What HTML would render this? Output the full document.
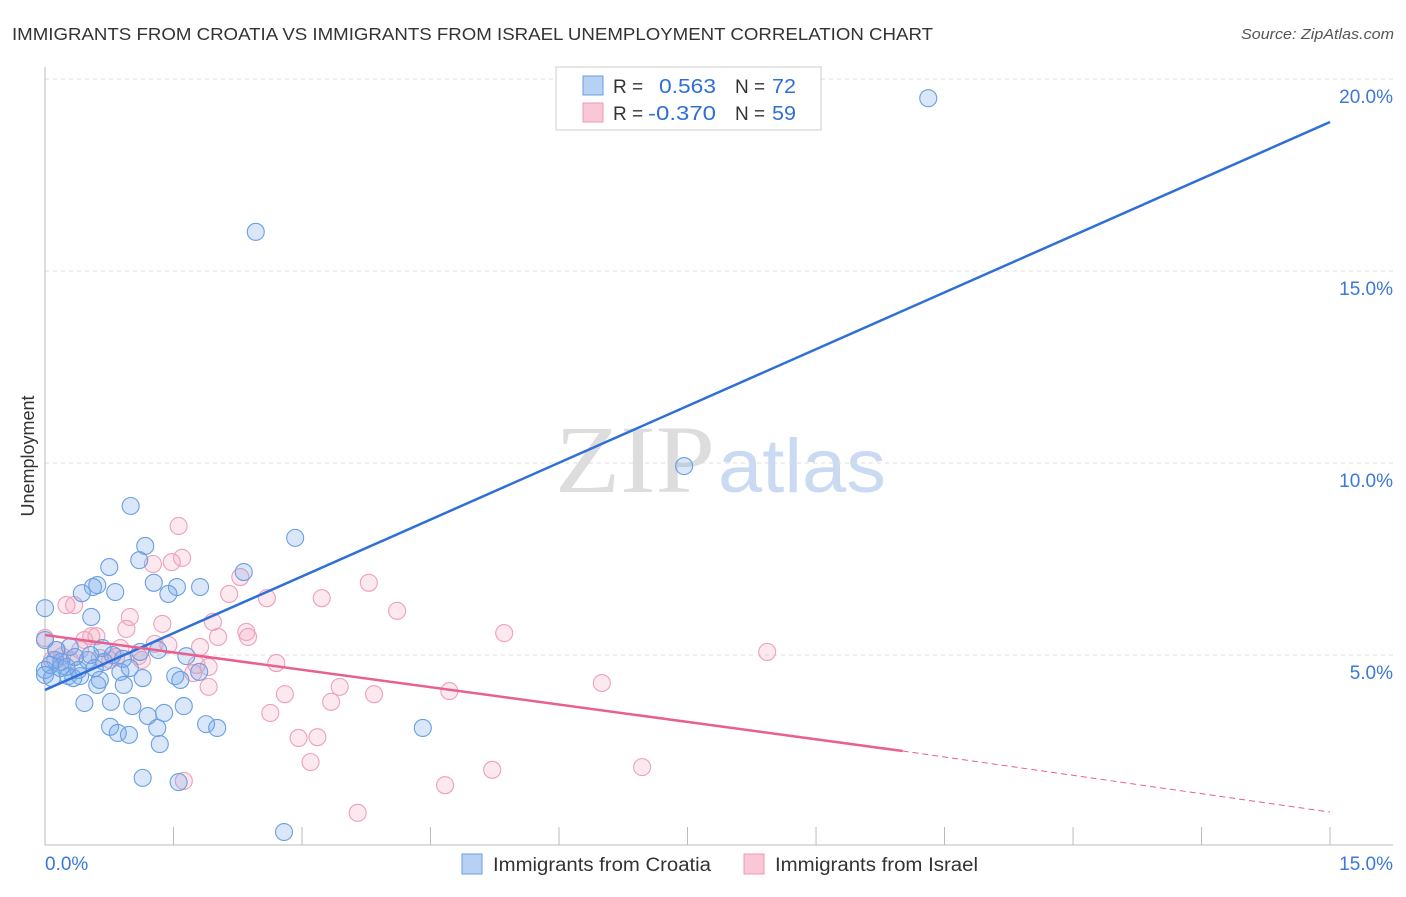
<!DOCTYPE html>
<html><head><meta charset="utf-8"><style>
body{margin:0;background:#fff;font-family:"Liberation Sans",sans-serif}
svg text{font-family:"Liberation Sans",sans-serif}
</style></head><body>
<svg id="chart" width="1406" height="892" viewBox="0 0 1406 892" xmlns="http://www.w3.org/2000/svg">
<text x="12" y="40" font-size="17.5" fill="#333" textLength="921" lengthAdjust="spacingAndGlyphs">IMMIGRANTS FROM CROATIA VS IMMIGRANTS FROM ISRAEL UNEMPLOYMENT CORRELATION CHART</text>
<text x="1394" y="39" font-size="15" fill="#555" font-style="italic" text-anchor="end" textLength="153" lengthAdjust="spacingAndGlyphs">Source: ZipAtlas.com</text>
<g>
<text x="555" y="492" font-size="96" fill="#ddd" font-family="Liberation Serif" style="font-family:'Liberation Serif',serif" textLength="160" lengthAdjust="spacingAndGlyphs">ZIP</text>
<text x="718" y="492" font-size="76" fill="#c9daf2" textLength="168" lengthAdjust="spacingAndGlyphs">atlas</text>
</g>
<g id="grid"></g>
<g id="axes"></g>
<g id="marks"></g>
<g>
<rect x="556" y="67" width="265" height="63" fill="#fff" stroke="#ccc"/>
<rect x="583" y="76" width="20" height="19" fill="#b7d1f5" stroke="#6a9de0"/>
<rect x="583" y="103" width="20" height="19" fill="#f9c7d6" stroke="#eb98b2"/>
<text x="613" y="93" font-size="19" fill="#333">R =</text>
<text x="659" y="93" font-size="20" fill="#2f6fd6" textLength="57" lengthAdjust="spacingAndGlyphs">0.563</text>
<text x="735" y="93" font-size="19" fill="#333">N =</text>
<text x="772" y="93" font-size="20" fill="#2f6fd6" textLength="24" lengthAdjust="spacingAndGlyphs">72</text>
<text x="613" y="120" font-size="19" fill="#333">R =</text>
<text x="648" y="120" font-size="20" fill="#2f6fd6" textLength="68" lengthAdjust="spacingAndGlyphs">-0.370</text>
<text x="735" y="120" font-size="19" fill="#333">N =</text>
<text x="772" y="120" font-size="20" fill="#2f6fd6" textLength="24" lengthAdjust="spacingAndGlyphs">59</text>
</g>
<g>
<rect x="462" y="854" width="20" height="20" fill="#b7d1f5" stroke="#6a9de0"/>
<text x="493" y="871" font-size="19" fill="#333" textLength="218" lengthAdjust="spacingAndGlyphs">Immigrants from Croatia</text>
<rect x="744" y="854" width="20" height="20" fill="#f9c7d6" stroke="#eb98b2"/>
<text x="775" y="871" font-size="19" fill="#333" textLength="203" lengthAdjust="spacingAndGlyphs">Immigrants from Israel</text>
</g>
<text transform="translate(34,456) rotate(-90)" font-size="18" fill="#333" text-anchor="middle">Unemployment</text>
</svg>
<script>
const blueX=[10.31,2.46,7.46,1.00,2.92,1.17,2.32,1.10,0.75,0.61,0.56,1.27,1.54,1.81,1.44,0.82,0.43,0,0.54,0,0.29,0.67,0.91,1.11,1.32,1.65,0.12,0.35,0.50,0.79,0.18,0.27,0.41,0.88,0,0.08,0.33,0.61,0.92,1.14,1.52,1.58,1.80,0.46,0.77,1.02,1.62,1.39,1.20,0.76,0.85,0.98,1.31,1.88,2.01,1.34,1.14,1.56,4.41,2.79,0.19,0.06,0.39,0.25,0.53,0.69,0.13,0.99,0.58,0.64,0];
const blueY=[19.5,16.02,9.92,8.88,8.05,7.84,7.16,7.47,7.29,6.82,6.77,6.88,6.77,6.77,6.59,6.64,6.61,6.22,5.99,5.39,5.21,5.18,4.90,5.08,5.13,4.97,4.87,4.95,4.87,5.00,4.66,4.45,4.45,4.56,4.61,4.40,4.40,4.22,4.22,4.40,4.45,4.35,4.56,3.75,3.78,3.67,3.67,3.49,3.41,3.13,2.97,2.92,3.10,3.20,3.10,2.68,1.80,1.69,3.10,0.39,4.82,4.74,4.61,4.69,5.00,4.82,5.13,4.66,4.66,4.35,4.48];
const pinkX=[1.56,1.26,1.60,1.48,2.28,2.15,2.59,3.78,3.23,4.11,0.25,0.34,0.99,0.95,1.37,1.96,2.35,2.37,2.02,5.36,8.43,0.54,0.60,1.28,1.44,1.81,0.88,1.09,1.13,0.76,0.08,0.20,0.46,2.70,1.91,1.77,1.73,1.91,0.83,0.64,0.29,3.44,2.80,3.84,4.72,6.50,2.63,3.34,2.96,3.18,3.10,5.22,6.97,4.67,3.65,1.62,0,0.14,0.41];
const pinkY=[8.36,7.37,7.53,7.42,7.03,6.59,6.48,6.88,6.48,6.15,6.30,6.30,5.99,5.68,5.81,5.86,5.60,5.47,5.47,5.57,5.08,5.49,5.49,5.29,5.26,5.21,5.18,4.97,4.87,4.87,4.87,4.97,5.39,4.79,4.69,4.74,4.53,4.17,4.95,4.92,4.87,4.17,3.98,3.98,4.06,4.27,3.49,3.78,2.84,2.86,2.21,2.01,2.08,1.61,0.89,1.72,5.44,5.13,5.13];
const blueTrend=[[0,4.09],[15,18.88]];
const pinkTrend=[[0,5.52],[10.01,2.5],[15,0.91]];
const yTicks=[5,10,15,20];
const yTickLabels=["5.0%","10.0%","15.0%","20.0%"];
const xTicks=[0,1.5,3,4.5,6,7.5,9,10.5,12,13.5,15];
const NS="http://www.w3.org/2000/svg";
const sx=v=>45+v*85.67, sy=v=>847-v*38.4;
function mk(tag,attrs,parent){const e=document.createElementNS(NS,tag);for(const k in attrs)e.setAttribute(k,attrs[k]);parent.appendChild(e);return e;}
const grid=document.getElementById('grid'),axes=document.getElementById('axes'),marks=document.getElementById('marks');
yTicks.forEach((t,i)=>{
 const l=mk('line',{x1:45,x2:1393,y1:sy(t),y2:sy(t),stroke:'#ddd','stroke-dasharray':'4,4'},grid);
 
 
 const tx=mk('text',{x:1393,y:sy(t)+24,'font-size':19,fill:'#3b78d8','text-anchor':'end'},axes);
 tx.textContent=yTickLabels[i];
 
 
});
const ya=mk('line',{x1:45,x2:45,y1:67,y2:845,stroke:'#bbb'},axes);


const xa=mk('line',{x1:45,x2:1393,y1:845,y2:845,stroke:'#bbb'},axes);


xTicks.forEach(t=>{const k=mk('line',{x1:sx(t),x2:sx(t),y1:827,y2:845,stroke:'#bbb'},axes);
 
 });
const x0=mk('text',{x:45,y:870,'font-size':19,fill:'#3b78d8'},axes);x0.textContent='0.0%';


const x1=mk('text',{x:1393,y:870,'font-size':19,fill:'#3b78d8','text-anchor':'end'},axes);x1.textContent='15.0%';


pinkX.forEach((x,i)=>{const c=mk('circle',{cx:sx(x),cy:sy(pinkY[i]),r:8.5,fill:'rgba(245,165,192,0.25)',stroke:'#eea0b8','stroke-width':1.1},marks);
 
 });
blueX.forEach((x,i)=>{const c=mk('circle',{cx:sx(x),cy:sy(blueY[i]),r:8.5,fill:'rgba(120,168,232,0.28)',stroke:'#6a9fe2','stroke-width':1.1},marks);
 
 });
const bl=mk('line',{x1:sx(blueTrend[0][0]),y1:sy(blueTrend[0][1]),x2:sx(blueTrend[1][0]),y2:sy(blueTrend[1][1]),stroke:'#2f6fd6','stroke-width':2.5},marks);


const pl=mk('line',{x1:sx(pinkTrend[0][0]),y1:sy(pinkTrend[0][1]),x2:sx(pinkTrend[1][0]),y2:sy(pinkTrend[1][1]),stroke:'#e8608f','stroke-width':2.5},marks);


const pd=mk('line',{x1:sx(pinkTrend[1][0]),y1:sy(pinkTrend[1][1]),x2:sx(pinkTrend[2][0]),y2:sy(pinkTrend[2][1]),stroke:'#e8608f','stroke-width':1,'stroke-dasharray':'6,4'},marks);


</script>
</body></html>
